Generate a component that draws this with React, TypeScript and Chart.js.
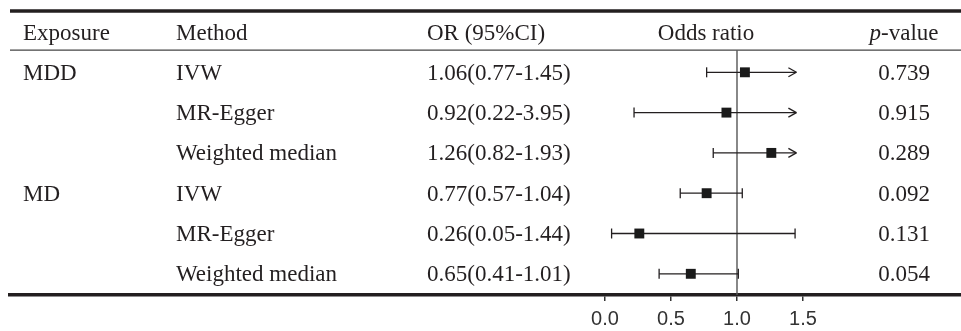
import React, { useEffect, useRef } from "react";
import { Chart, registerables } from "chart.js";

Chart.register(...registerables);

// ---- Data ----
const headers = ["Exposure", "Method", "OR (95%CI)", "Odds ratio", "p-value"];
const exposures = ["MDD", "", "", "MD", "", ""];
const methods = ["IVW", "MR-Egger", "Weighted median", "IVW", "MR-Egger", "Weighted median"];
const orValues = [1.06, 0.92, 1.26, 0.77, 0.26, 0.65];
const ciLower = [0.77, 0.22, 0.82, 0.57, 0.05, 0.41];
const ciUpper = [1.45, 3.95, 1.93, 1.04, 1.44, 1.01];
const pValues = ["0.739", "0.915", "0.289", "0.092", "0.131", "0.054"];
const xTicks = [0, 0.5, 1.0, 1.5];
const clipMax = 1.45;
const refValue = 1.0;

// ---- Scale ranges ----
const X_MIN = -4.5076;
const X_MAX = 2.697;
const Y_MIN = -0.546;
const Y_MAX = 6.526;

const INK = "#231f20";
const SERIF = '"Liberation Serif", "Times New Roman", serif';

const forestPlugin = {
  id: "forestPlugin",
  beforeDatasetsDraw(chart: any) {
    const { ctx, chartArea, scales } = chart;
    const x = scales.x;
    const y = scales.y;
    const line = (x1: number, y1: number, x2: number, y2: number) => {
      ctx.beginPath();
      ctx.moveTo(x1, y1);
      ctx.lineTo(x2, y2);
      ctx.stroke();
    };
    ctx.save();
    // top thick rule
    ctx.strokeStyle = INK;
    ctx.lineWidth = 3.5;
    const yTop = y.getPixelForValue(-0.52);
    line(chartArea.left, yTop, chartArea.right, yTop);
    // header rule
    ctx.strokeStyle = "#444";
    ctx.lineWidth = 1.2;
    const yHead = y.getPixelForValue(0.45);
    line(chartArea.left, yHead, chartArea.right, yHead);
    // reference line
    ctx.strokeStyle = "#555";
    ctx.lineWidth = 1.4;
    const xRef = x.getPixelForValue(refValue);
    line(xRef, yHead, xRef, chartArea.bottom);
    // whiskers
    ctx.strokeStyle = INK;
    ctx.lineWidth = 1.3;
    for (let i = 0; i < orValues.length; i++) {
      const yy = y.getPixelForValue(i + 1);
      const xl = x.getPixelForValue(ciLower[i]);
      const arrow = ciUpper[i] >= clipMax;
      const xh = x.getPixelForValue(Math.min(ciUpper[i], clipMax));
      line(xl, yy, xh, yy);
      line(xl, yy - 5, xl, yy + 5);
      if (arrow) {
        line(xh - 8, yy - 4.5, xh, yy);
        line(xh - 8, yy + 4.5, xh, yy);
      } else {
        line(xh, yy - 5, xh, yy + 5);
      }
    }
    ctx.restore();
  },
  afterDraw(chart: any) {
    const { ctx, scales } = chart;
    const y = scales.y;
    ctx.save();
    ctx.fillStyle = INK;
    ctx.textBaseline = "alphabetic";
    const font = `23px ${SERIF}`;
    const italic = `italic 23px ${SERIF}`;
    const off = 7.5;
    const colExp = 23;
    const colMethod = 176;
    const colOR = 427;
    const colOdds = 706;
    const colP = 904;
    ctx.font = font;
    // header
    const yh = y.getPixelForValue(0) + off;
    ctx.textAlign = "left";
    ctx.fillText(headers[0], colExp, yh);
    ctx.fillText(headers[1], colMethod, yh);
    ctx.fillText(headers[2], colOR, yh);
    ctx.textAlign = "center";
    ctx.fillText(headers[3], colOdds, yh);
    // p-value header with italic p
    const pPart = headers[4].slice(0, 1);
    const rest = headers[4].slice(1);
    ctx.font = italic;
    const wp = ctx.measureText(pPart).width;
    ctx.font = font;
    const wr = ctx.measureText(rest).width;
    const start = colP - (wp + wr) / 2;
    ctx.textAlign = "left";
    ctx.font = italic;
    ctx.fillText(pPart, start, yh);
    ctx.font = font;
    ctx.fillText(rest, start + wp, yh);
    // rows
    for (let i = 0; i < methods.length; i++) {
      const yy = y.getPixelForValue(i + 1) + off;
      ctx.textAlign = "left";
      if (exposures[i]) ctx.fillText(exposures[i], colExp, yy);
      ctx.fillText(methods[i], colMethod, yy);
      const orText = `${orValues[i].toFixed(2)}(${ciLower[i].toFixed(2)}-${ciUpper[i].toFixed(2)})`;
      ctx.fillText(orText, colOR, yy);
      ctx.textAlign = "center";
      ctx.fillText(pValues[i], colP, yy);
    }
    ctx.restore();
  },
};

export default function App() {
  const canvasRef = useRef<HTMLCanvasElement | null>(null);

  useEffect(() => {
    if (!canvasRef.current) return;
    const chart = new Chart(canvasRef.current, {
      type: "scatter",
      data: {
        datasets: [
          {
            data: orValues.map((v, i) => ({ x: v, y: i + 1 })),
            pointStyle: "rect",
            pointRadius: 7,
            pointHoverRadius: 7,
            backgroundColor: "#1a1a1a",
            borderWidth: 0,
            showLine: false,
          },
        ],
      },
      options: {
        responsive: false,
        animation: false,
        events: [],
        layout: { autoPadding: false, padding: { left: 10, right: 0, top: 10, bottom: 0 } },
        plugins: {
          legend: { display: false },
          tooltip: { enabled: false },
        },
        scales: {
          x: {
            type: "linear",
            min: X_MIN,
            max: X_MAX,
            afterBuildTicks: (s: any) => {
              s.ticks = xTicks.map((v) => ({ value: v }));
            },
            afterFit: (s: any) => {
              s.height = 36;
              s.paddingLeft = 0;
              s.paddingRight = 0;
              s.paddingTop = 0;
              s.paddingBottom = 0;
            },
            grid: {
              display: true,
              drawOnChartArea: false,
              drawTicks: true,
              tickLength: 6,
              color: "#333",
              lineWidth: 1.5,
            },
            border: { display: true, color: INK, width: 3.5 },
            ticks: {
              font: { family: '"Liberation Sans", Arial, sans-serif', size: 20 },
              color: "#333",
              padding: 6,
              autoSkip: false,
              maxRotation: 0,
              callback: (v: any) => Number(v).toFixed(1),
            },
          },
          y: {
            type: "linear",
            display: false,
            min: Y_MIN,
            max: Y_MAX,
            reverse: true,
          },
        },
      },
      plugins: [forestPlugin],
    });
    return () => chart.destroy();
  }, []);

  return (
    <div style={{ position: "fixed", left: 0, top: 0, width: 961, height: 331, background: "#fff" }}>
      <canvas ref={canvasRef} width={961} height={331} />
    </div>
  );
}
